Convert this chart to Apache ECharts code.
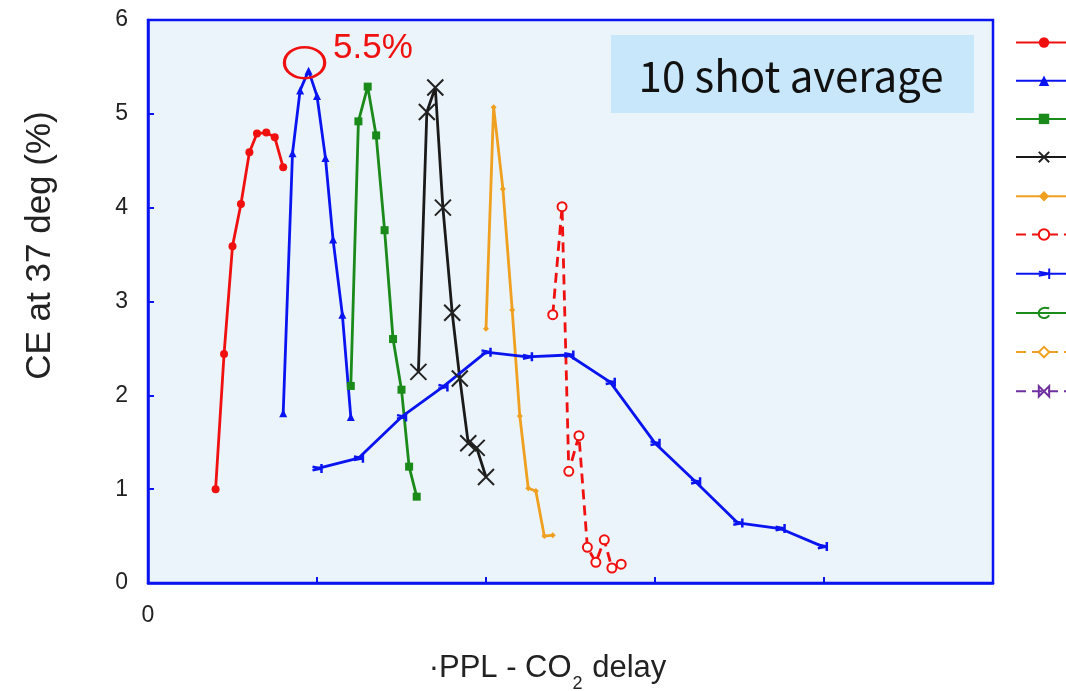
<!DOCTYPE html>
<html>
<head>
<meta charset="utf-8">
<script src="https://cdn.jsdelivr.net/npm/echarts@6/dist/echarts.min.js"></script>
<style>html,body{margin:0;padding:0;background:#fff;}#c{width:1066px;height:691px;}</style>
</head>
<body>
<div id="c"></div>
<script>
// ---- data (x = PPL - CO2 delay, y = CE at 37 deg %) ----
const s1x = [0.40, 0.45, 0.50, 0.55, 0.60, 0.645, 0.70, 0.75, 0.80];
const s1y = [1.00, 2.44, 3.59, 4.04, 4.59, 4.79, 4.80, 4.75, 4.43];
const s2x = [0.80, 0.855, 0.90, 0.95, 1.00, 1.05, 1.095, 1.15, 1.20];
const s2y = [1.81, 4.58, 5.25, 5.46, 5.19, 4.53, 3.66, 2.86, 1.77];
const s3x = [1.20, 1.245, 1.30, 1.35, 1.40, 1.45, 1.50, 1.545, 1.59];
const s3y = [2.10, 4.92, 5.29, 4.77, 3.76, 2.60, 2.06, 1.24, 0.92];
const s4x = [1.60, 1.65, 1.70, 1.745, 1.80, 1.845, 1.895, 1.945, 2.00];
const s4y = [2.25, 5.02, 5.28, 4.00, 2.88, 2.18, 1.49, 1.44, 1.13];
const s5x = [2.00, 2.045, 2.10, 2.155, 2.20, 2.25, 2.295, 2.345, 2.395];
const s5y = [2.71, 5.07, 4.20, 2.91, 1.78, 1.01, 0.98, 0.50, 0.51];
const s6x = [2.395, 2.45, 2.49, 2.55, 2.60, 2.65, 2.70, 2.745, 2.80];
const s6y = [2.86, 4.01, 1.19, 1.57, 0.38, 0.22, 0.46, 0.16, 0.20];
const s7x = [1.00, 1.245, 1.50, 1.745, 2.00, 2.245, 2.49, 2.735, 3.00, 3.24, 3.49, 3.74, 3.99];
const s7y = [1.22, 1.33, 1.77, 2.09, 2.46, 2.41, 2.43, 2.14, 1.49, 1.08, 0.64, 0.58, 0.39];
const seriesNames = ['s1', 's2', 's3', 's4', 's5', 's6', 's7', 's8', 's9', 's10'];
const yTicks = [0, 1, 2, 3, 4, 5, 6];
const xTickLabels = ['0'];

function pairs(xs, ys) { return xs.map((x, i) => [x, ys[i]]); }

const BLUE = '#0a14f0';
const chart = echarts.init(document.getElementById('c'));

function lineSeries(name, data, color, symbol, size, opts) {
  opts = opts || {};
  return {
    name: name, type: 'line', data: data,
    symbol: symbol, symbolSize: size,
    showSymbol: true,
    lineStyle: { color: color, width: 2.8, type: opts.dash ? [10, 6] : 'solid' },
    itemStyle: opts.itemStyle || { color: color, borderColor: color, borderWidth: 0 },
    emphasis: { disabled: true },
    z: opts.z || 2
  };
}

const xPath = 'path://M0,0L10,10M10,0L0,10';
const notchPath = 'path://M4,0L4,10M4,5L0,3M4,5L0,7';
const hookPath = 'path://M8,2C2,0 0,5 2,8C4,10 7,9 8,7';
const bowPath = 'path://M0,0L10,10L10,0L0,10Z';

const option = {
  animation: false,
  backgroundColor: '#ffffff',
  grid: {
    left: 148, top: 20, width: 845, height: 563,
    outerBoundsMode: 'none', containLabel: false,
    show: true, backgroundColor: '#eaf4fa', borderColor: BLUE, borderWidth: 2.5
  },
  xAxis: {
    type: 'value', min: 0, max: 5, interval: 1,
    name: '{t|·PPL - CO}{s|2}{t| delay}',
    nameLocation: 'middle', nameGap: 70,
    nameTextStyle: {
      padding: [0, 46, 0, 0],
      rich: {
        t: { fontFamily: 'Liberation Sans', fontSize: 31, color: '#222' },
        s: { fontFamily: 'Liberation Sans', fontSize: 18, color: '#222', verticalAlign: 'bottom', padding: [0, 1, -9, 1] }
      }
    },
    axisLine: { show: true, lineStyle: { color: BLUE, width: 2.5 } },
    axisTick: { show: true, inside: true, length: 6, lineStyle: { color: BLUE, width: 2 } },
    axisLabel: {
      margin: 21, fontFamily: 'Liberation Sans', fontSize: 23, color: '#222',
      formatter: function (v) { return xTickLabels.indexOf(String(v)) >= 0 ? String(v) : ''; }
    },
    splitLine: { show: false }
  },
  yAxis: {
    type: 'value', min: yTicks[0], max: yTicks[yTicks.length - 1], interval: 1,
    name: 'CE at 37 deg (%)',
    nameLocation: 'middle', nameGap: 90,
    nameTextStyle: { fontFamily: 'Liberation Sans', fontSize: 35, color: '#222', padding: [0, 0, 0, 112] },
    axisLine: { show: true, lineStyle: { color: BLUE, width: 2.5 } },
    axisTick: { show: true, inside: true, length: 6, lineStyle: { color: BLUE, width: 2 } },
    axisLabel: { margin: 20, fontFamily: 'Liberation Sans', fontSize: 23, color: '#222' },
    splitLine: { show: false }
  },
  legend: {
    orient: 'vertical', left: 1010, top: 31, padding: 5,
    itemWidth: 56, itemHeight: 13, itemGap: 26.5,
    data: seriesNames,
    formatter: function () { return ''; },
    textStyle: { fontSize: 1 },
    selectedMode: false
  },
  series: [
    lineSeries(seriesNames[0], pairs(s1x, s1y), '#f01010', 'circle', 8),
    lineSeries(seriesNames[1], pairs(s2x, s2y), BLUE, 'triangle', 8),
    lineSeries(seriesNames[2], pairs(s3x, s3y), '#1a8a1a', 'rect', 8),
    lineSeries(seriesNames[3], pairs(s4x, s4y), '#1a1a1a', xPath, 16,
      { itemStyle: { color: 'rgba(0,0,0,0)', borderColor: '#222', borderWidth: 2 } }),
    lineSeries(seriesNames[4], pairs(s5x, s5y), '#f0a020', 'diamond', 6),
    lineSeries(seriesNames[5], pairs(s6x, s6y), '#f01010', 'circle', 9,
      { dash: true, itemStyle: { color: '#fff', borderColor: '#f01010', borderWidth: 2 } }),
    lineSeries(seriesNames[6], pairs(s7x, s7y), BLUE, notchPath, 9,
      { itemStyle: { color: 'rgba(0,0,0,0)', borderColor: BLUE, borderWidth: 2.5 } }),
    lineSeries(seriesNames[7], [], '#1a8a1a', hookPath, 10,
      { itemStyle: { color: 'rgba(0,0,0,0)', borderColor: '#1a8a1a', borderWidth: 2.5 } }),
    lineSeries(seriesNames[8], [], '#f0a020', 'diamond', 9,
      { dash: true, itemStyle: { color: '#fff', borderColor: '#f0a020', borderWidth: 1.5 } }),
    lineSeries(seriesNames[9], [], '#7030a0', bowPath, 9,
      { dash: true, itemStyle: { color: 'rgba(0,0,0,0)', borderColor: '#7030a0', borderWidth: 1.5 } })
  ]
};
chart.setOption(option);

// annotations
const peak = chart.convertToPixel({ gridIndex: 0 }, [s2x[3], s2y[3]]);
chart.setOption({
  graphic: [
    {
      type: 'rect', left: 611, top: 35, z: 10,
      shape: { width: 363, height: 78 },
      style: { fill: '#c8e7fb' }
    },
    {
      type: 'text', x: 791, y: 76, z: 11,
      style: {
        text: '10 shot average', fill: '#111',
        font: '42px "Noto Sans CJK JP"', textAlign: 'center', textVerticalAlign: 'middle'
      }
    },
    {
      type: 'circle', x: peak[0] - 4, y: peak[1] - 8, scaleX: 1.3, scaleY: 1, z: 10,
      shape: { cx: 0, cy: 0, r: 15.5 },
      style: { fill: 'none', stroke: '#f01010', lineWidth: 2.5 }
    },
    {
      type: 'text', x: 373, y: 48, z: 11,
      style: {
        text: '5.5%', fill: '#f01010',
        font: '35px "Liberation Sans"', textAlign: 'center', textVerticalAlign: 'middle'
      }
    }
  ]
});
</script>
</body>
</html>
